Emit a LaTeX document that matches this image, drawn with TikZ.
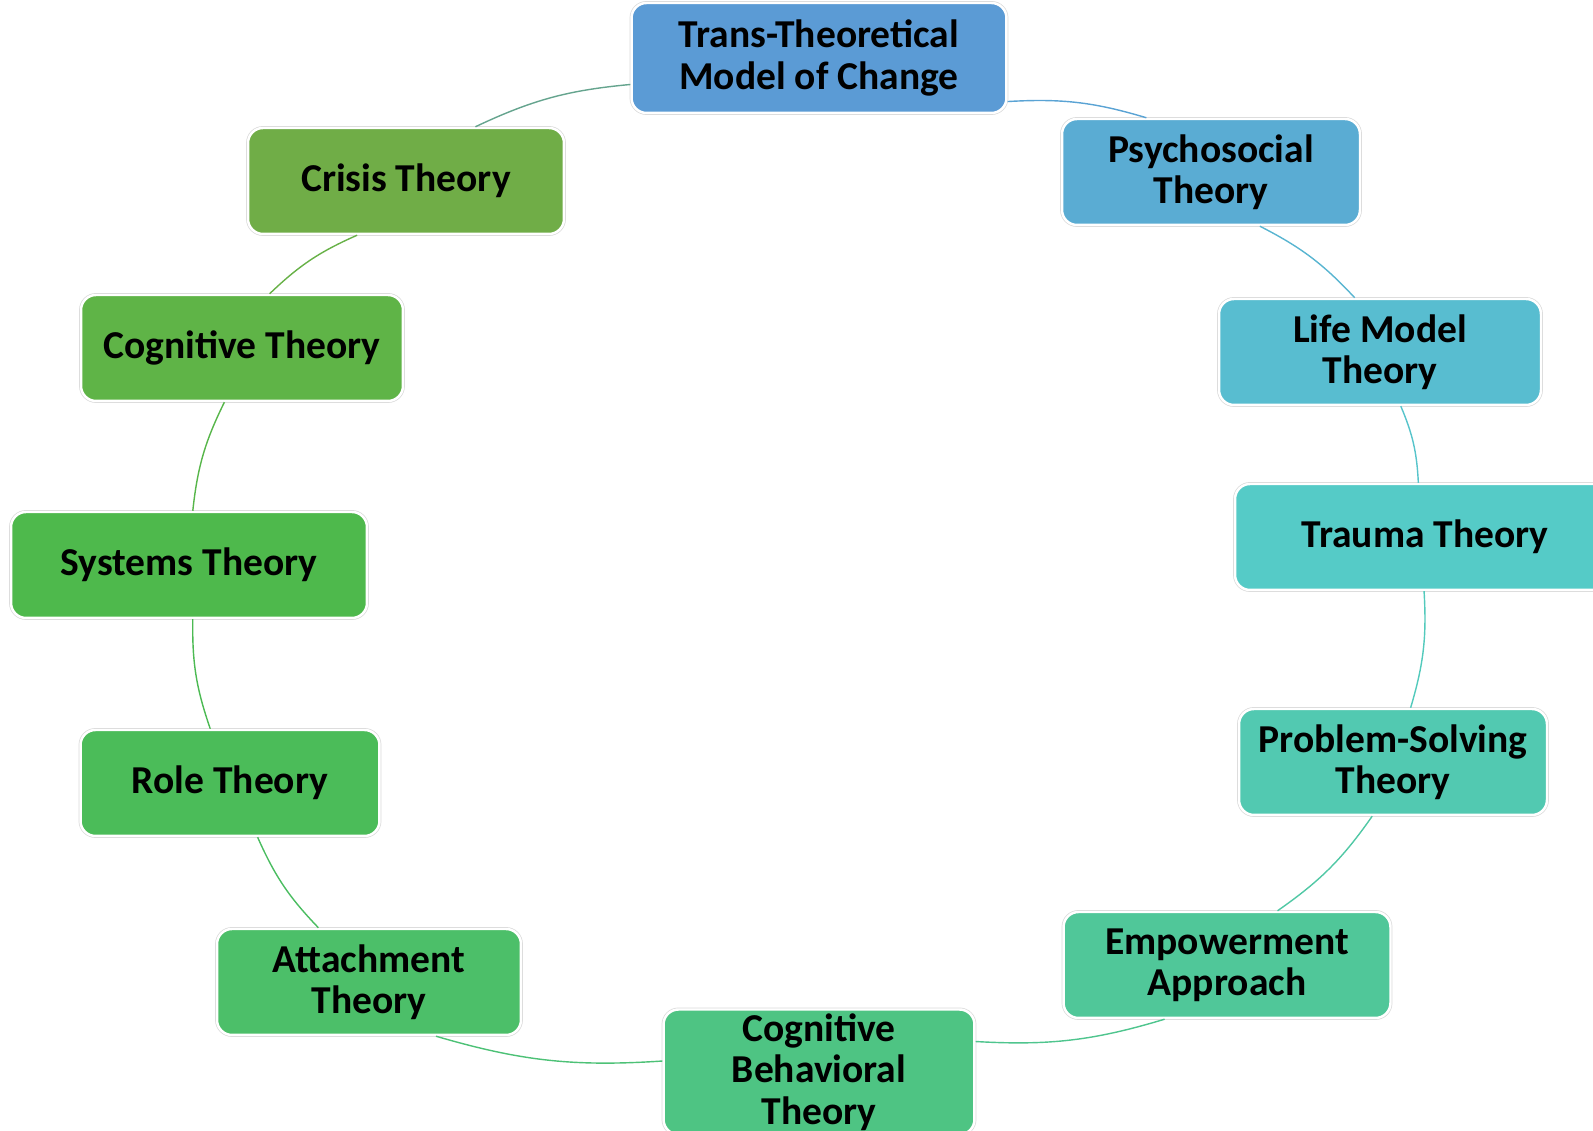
\documentclass[tikz,border=0pt]{standalone}
\usepackage{fontspec}
\setmainfont{Carlito}
\usepackage{tikz}

\definecolor{transcol}{HTML}{5B9BD5}
\definecolor{psychocol}{HTML}{5AACD3}
\definecolor{lifecol}{HTML}{58BDD0}
\definecolor{traumacol}{HTML}{55CBC7}
\definecolor{problemcol}{HTML}{52C9B1}
\definecolor{empowercol}{HTML}{50C799}
\definecolor{cbtcol}{HTML}{4EC483}
\definecolor{attachcol}{HTML}{4CBF69}
\definecolor{rolecol}{HTML}{4BBC59}
\definecolor{systemscol}{HTML}{4EB94C}
\definecolor{cogcol}{HTML}{5FB447}
\definecolor{crisiscol}{HTML}{70AD47}

\begin{document}
\begin{tikzpicture}[x=0.02cm,y=0.02cm]
\tikzstyle{theory}=[rectangle,rounded corners=0.3cm,preaction={draw=black!15,line width=2.2pt},draw=white,line width=1.4pt,text=black,align=center,minimum height=2.12cm,inner sep=2pt,font=\bfseries\fontsize{22.5}{23.5}\selectfont]
\tikzstyle{link}=[bend left=10,line width=0.8pt]
\useasboundingbox (0,0) rectangle (1593,1131);
\clip (0,0) rectangle (1593,1131);
\node[theory,fill=transcol,minimum width=7.5cm,minimum height=2.2cm] (trans) at (819,1073) {Trans-Theoretical\\Model of Change};
\node[theory,fill=psychocol,minimum width=5.96cm] (psycho) at (1211,959) {Psychosocial\\Theory};
\node[theory,fill=lifecol,minimum width=6.44cm] (life) at (1380,779) {Life Model\\Theory};
\node[theory,fill=traumacol,minimum width=7.6cm] (trauma) at (1425,594) {Trauma Theory};
\node[theory,fill=problemcol,minimum width=6.16cm] (problem) at (1393,369) {Problem-Solving\\Theory};
\node[theory,fill=empowercol,minimum width=6.54cm] (empower) at (1227,166) {Empowerment\\Approach};
\node[theory,fill=cbtcol,minimum width=6.22cm,minimum height=2.5cm] (cbt) at (819,59) {Cognitive\\Behavioral\\Theory};
\node[theory,fill=attachcol,minimum width=6.08cm] (attach) at (369,149) {Attachment\\Theory};
\node[theory,fill=rolecol,minimum width=5.98cm] (role) at (230,348) {Role Theory};
\node[theory,fill=systemscol,minimum width=7.12cm] (systems) at (189,566) {Systems Theory};
\node[theory,fill=cogcol,minimum width=6.44cm] (cognitive) at (242,783) {Cognitive Theory};
\node[theory,fill=crisiscol,minimum width=6.32cm] (crisis) at (406,950) {Crisis Theory};
\path
(trans.-13) edge[link,draw=transcol!50!psychocol] (psycho.140)
(psycho.-48) edge[link,draw=psychocol!50!lifecol] (life.115)
(life.-69) edge[link,draw=lifecol!50!traumacol] (trauma.97)
(trauma.-91) edge[link,draw=traumacol!50!problemcol] (problem.72)
(problem.-111) edge[link,draw=problemcol!50!empowercol] (empower.47)
(empower.-139) edge[link,draw=empowercol!50!cbtcol] (cbt.11)
(cbt.176) edge[link,draw=cbtcol!50!attachcol] (attach.-39)
(attach.133) edge[link,draw=attachcol!50!rolecol] (role.-63)
(role.110) edge[link,draw=rolecol!50!systemscol] (systems.-86)
(systems.86) edge[link,draw=systemscol!50!cogcol] (cognitive.-108)
(cognitive.63) edge[link,draw=cogcol!50!crisiscol] (crisis.-132)
(crisis.38) edge[link,draw=crisiscol!50!transcol] (trans.-172)
;
\end{tikzpicture}
\end{document}
